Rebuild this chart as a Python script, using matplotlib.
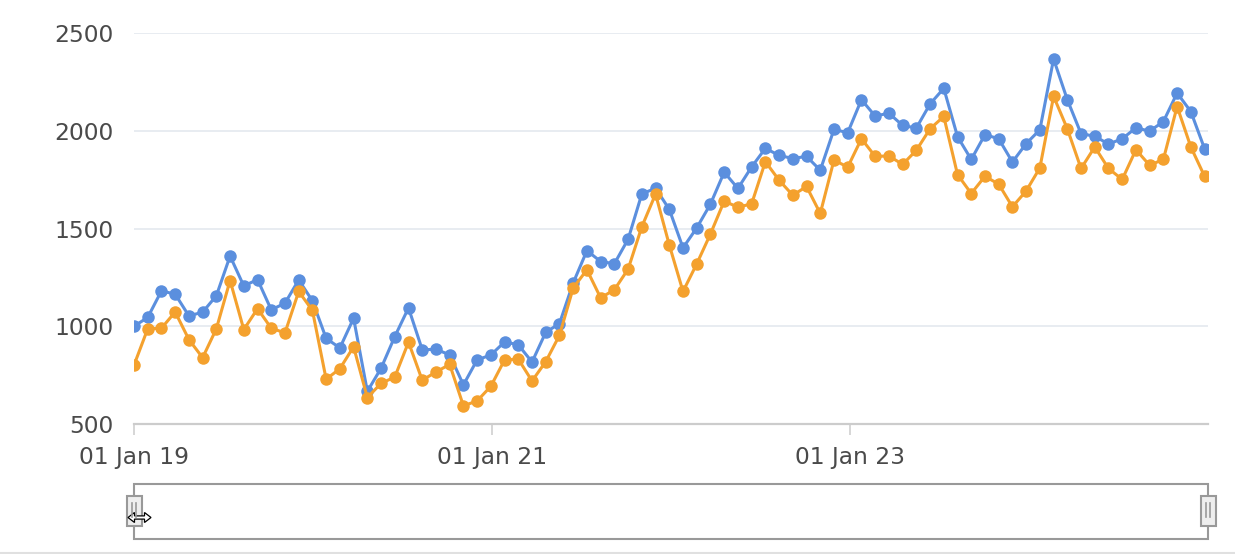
import matplotlib
matplotlib.use('Agg')
import matplotlib.pyplot as plt
import matplotlib.dates as mdates
from matplotlib.patches import Rectangle, Polygon
import pandas as pd

# one point every 4 weeks, starting 01 Jan 2019
dates = pd.date_range('2019-01-01', periods=79, freq='28D')

series_a = [1000, 1045, 1181, 1164, 1053, 1072, 1156, 1359, 1206, 1239,
            1084, 1118, 1237, 1130, 938, 889, 1041, 667, 785, 947,
            1094, 880, 882, 854, 700, 828, 853, 920, 905, 817,
            969, 1014, 1222, 1387, 1331, 1320, 1445, 1677, 1706, 1598,
            1401, 1503, 1625, 1788, 1705, 1815, 1910, 1874, 1858, 1869,
            1798, 2007, 1990, 2159, 2075, 2090, 2027, 2014, 2137, 2217,
            1970, 1853, 1980, 1959, 1840, 1934, 2005, 2367, 2159, 1985,
            1972, 1932, 1959, 2015, 1998, 2047, 2193, 2098, 1908]

series_b = [801, 987, 990, 1073, 932, 839, 987, 1234, 983, 1090,
            990, 966, 1178, 1081, 729, 783, 895, 635, 708, 740,
            919, 724, 766, 805, 593, 618, 693, 828, 832, 720,
            819, 954, 1196, 1289, 1145, 1187, 1292, 1509, 1676, 1416,
            1178, 1319, 1472, 1640, 1609, 1626, 1842, 1747, 1670, 1715,
            1577, 1850, 1814, 1959, 1869, 1871, 1828, 1900, 2010, 2073,
            1776, 1679, 1767, 1727, 1611, 1692, 1810, 2176, 2010, 1807,
            1917, 1807, 1751, 1903, 1823, 1854, 2124, 1917, 1767]

tick_dates = ['2019-01-01', '2021-01-01', '2023-01-01']
y_ticks = [500, 1000, 1500, 2000, 2500]

W, H = 1235, 554
fig = plt.figure(figsize=(W / 100, H / 100), dpi=100)
ax = fig.add_axes([134 / W, 1 - 424 / H, (1208 - 134) / W, (424 - 33) / H])

ax.plot(dates, series_a, color='#5b8fde', lw=2.2, marker='o', markersize=9,
        markeredgewidth=0, zorder=3)
ax.plot(dates, series_b, color='#f4a12e', lw=2.2, marker='o', markersize=9,
        markeredgewidth=0, zorder=4)

ax.set_ylim(500, 2500)
ax.set_xlim(dates[0], dates[-1] + pd.Timedelta(days=7))
ax.set_yticks(y_ticks)
ax.set_xticks(pd.to_datetime(tick_dates))
ax.xaxis.set_major_formatter(mdates.DateFormatter('%d %b %y'))

ax.grid(axis='y', color='#e1e7ee', lw=1.1, zorder=0)
ax.set_axisbelow(True)
for s in ['top', 'right', 'left']:
    ax.spines[s].set_visible(False)
ax.spines['bottom'].set_color('#cccccc')
ax.spines['bottom'].set_linewidth(1.6)

ax.tick_params(axis='x', direction='out', length=8, width=1.1, color='#cccccc',
               labelsize=16.8, labelcolor='#4a4a4a', pad=8)
ax.tick_params(axis='y', length=0, labelsize=16.8, labelcolor='#4a4a4a', pad=15)

# range navigator below the chart
ov = fig.add_axes([0, 0, 1, 1], zorder=10)
ov.set_xlim(0, W)
ov.set_ylim(H, 0)
ov.axis('off')
ov.add_patch(Rectangle((134, 483.5), 1208 - 134, 55, fill=False,
                       edgecolor='#999999', lw=1.5))
for hx in [134, 1208]:
    ov.add_patch(Rectangle((hx - 7.5, 496), 15, 30, facecolor='#eeeeee',
                           edgecolor='#999999', lw=1.5))
    ov.plot([hx - 2, hx - 2], [503, 517], color='#999999', lw=1.2)
    ov.plot([hx + 2, hx + 2], [503, 517], color='#999999', lw=1.2)

# mouse cursor (double arrow) sitting on the left handle
cx, cy = 139.5, 517.5
cursor = [(cx - 11.5, cy), (cx - 5, cy - 5), (cx - 5, cy - 1.6),
          (cx + 5, cy - 1.6), (cx + 5, cy - 5), (cx + 11.5, cy),
          (cx + 5, cy + 5), (cx + 5, cy + 1.6), (cx - 5, cy + 1.6),
          (cx - 5, cy + 5)]
ov.add_patch(Polygon(cursor, closed=True, facecolor='white',
                     edgecolor='black', lw=0.9))
ov.plot([0, W], [553, 553], color='#e0e0e0', lw=1.5)

fig.savefig('out.png', dpi=100)
